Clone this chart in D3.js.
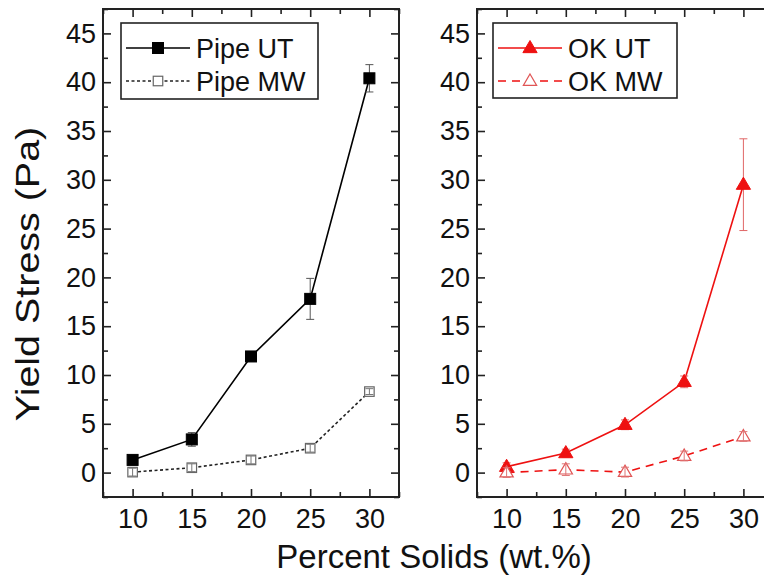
<!DOCTYPE html>
<html>
<head>
<meta charset="utf-8">
<script src="https://cdn.jsdelivr.net/npm/d3@7"></script>
<style>
  html, body { margin: 0; padding: 0; background: #fff; }
  svg text { font-family: "Liberation Sans", Arial, sans-serif; fill: #111; }
</style>
</head>
<body>
<svg id="chart" width="764" height="584"></svg>
<script>
// Yield stress versus solids loading, two slurry sets measured two ways
const solids = [10, 15, 20, 25, 30];
const xTicks = [10, 15, 20, 25, 30];
const yTicks = [0, 5, 10, 15, 20, 25, 30, 35, 40, 45];

const pipeUT = [1.3, 3.4, 11.9, 17.8, 40.4];
const pipeUTErr = [0.3, 0.7, 0.3, 2.1, 1.4];
const pipeMW = [0.05, 0.5, 1.3, 2.5, 8.3];
const pipeMWErr = [0.4, 0.4, 0.4, 0.4, 0.3];

const okUT = [0.6, 2.0, 4.9, 9.3, 29.5];
const okUTErr = [0.4, 0.4, 0.5, 0.6, 4.7];
const okMW = [0.0, 0.3, 0.05, 1.7, 3.7];
const okMWErr = [0.5, 0.6, 0.5, 0.5, 0.5];

const RED = "#ee1111";
const svg = d3.select("#chart");

const plotTop = 9, plotBottom = 497;
const y = d3.scaleLinear().domain([-2.5, 47.5]).range([plotBottom, plotTop]);

const panels = [
  {
    left: 103, right: 399,
    series: [
      { name: "Pipe UT", vals: pipeUT, err: pipeUTErr, color: "#000", errColor: "#555",
        dash: null, marker: "square", filled: true, mstroke: "#000" },
      { name: "Pipe MW", vals: pipeMW, err: pipeMWErr, color: "#222", errColor: "#777",
        dash: "3,2.5", marker: "square", filled: false, mstroke: "#666" }
    ],
    legend: { x: 121, y: 23, w: 197, h: 76, lineX0: 126, lineX1: 190, textX: 196 }
  },
  {
    left: 477, right: 773,
    series: [
      { name: "OK UT", vals: okUT, err: okUTErr, color: RED, errColor: "#e06666",
        dash: null, marker: "triangle", filled: true, mstroke: RED },
      { name: "OK MW", vals: okMW, err: okMWErr, color: RED, errColor: "#e07777",
        dash: "8,6", marker: "triangle", filled: false, mstroke: "#e05555" }
    ],
    legend: { x: 493, y: 23, w: 184, h: 75, lineX0: 498, lineX1: 562, textX: 568 }
  }
];

function drawMarker(g, type, cx, cy, filled, stroke, fillColor) {
  if (type === "square") {
    const s = filled ? 11 : 9.5;
    g.append("rect")
      .attr("x", cx - s / 2).attr("y", cy - s / 2)
      .attr("width", s).attr("height", s)
      .attr("fill", filled ? fillColor : "#fff")
      .attr("stroke", stroke).attr("stroke-width", filled ? 1 : 1.2);
  } else {
    const r = filled ? 7.5 : 7;
    const pts = [[cx, cy - r], [cx + r * 0.95, cy + r * 0.62], [cx - r * 0.95, cy + r * 0.62]];
    g.append("path")
      .attr("d", "M" + pts.map(p => p.join(",")).join("L") + "Z")
      .attr("fill", filled ? fillColor : "#fff")
      .attr("stroke", stroke).attr("stroke-width", filled ? 1 : 1.2);
  }
}

function drawErr(g, cx, v, e, color) {
  const y0 = y(v + e), y1 = y(v - e);
  g.append("line").attr("x1", cx).attr("x2", cx).attr("y1", y0).attr("y2", y1)
    .attr("stroke", color).attr("stroke-width", 1);
  [y0, y1].forEach(yy => g.append("line")
    .attr("x1", cx - 4).attr("x2", cx + 4).attr("y1", yy).attr("y2", yy)
    .attr("stroke", color).attr("stroke-width", 1));
}

panels.forEach(p => {
  const x = d3.scaleLinear().domain([7.5, 32.5]).range([p.left, p.right]);
  const g = svg.append("g");

  const minorX = d3.range(7.5, 33, 5);
  const minorY = d3.range(-2.5, 48, 5);

  // left axis with labels
  const ax = g.append("g").attr("transform", `translate(${p.left},0)`)
    .call(d3.axisLeft(y).tickValues(yTicks).tickSizeInner(-8).tickSizeOuter(0).tickPadding(7));
  ax.append("g").call(d3.axisLeft(y).tickValues(minorY).tickSizeInner(-5).tickSizeOuter(0).tickFormat(""));
  // right axis, ticks only
  const ar = g.append("g").attr("transform", `translate(${p.right},0)`);
  ar.call(d3.axisRight(y).tickValues(yTicks).tickSizeInner(-8).tickSizeOuter(0).tickFormat(""));
  ar.append("g").call(d3.axisRight(y).tickValues(minorY).tickSizeInner(-5).tickSizeOuter(0).tickFormat(""));
  // bottom axis with labels
  const ab = g.append("g").attr("transform", `translate(0,${plotBottom})`)
    .call(d3.axisBottom(x).tickValues(xTicks).tickSizeInner(-8).tickSizeOuter(0).tickPadding(12));
  ab.append("g").call(d3.axisBottom(x).tickValues(minorX).tickSizeInner(-5).tickSizeOuter(0).tickFormat(""));
  // top axis, ticks only
  const at = g.append("g").attr("transform", `translate(0,${plotTop})`);
  at.call(d3.axisTop(x).tickValues(xTicks).tickSizeInner(-8).tickSizeOuter(0).tickFormat(""));
  at.append("g").call(d3.axisTop(x).tickValues(minorX).tickSizeInner(-5).tickSizeOuter(0).tickFormat(""));

  g.selectAll(".domain").remove();
  g.selectAll(".tick line").attr("stroke", "#222").attr("stroke-width", 1.6);
  g.selectAll(".tick text").attr("font-size", 27).attr("fill", "#111")
    .attr("font-family", "'Liberation Sans', Arial, sans-serif");

  // frame
  g.append("rect").attr("x", p.left).attr("y", plotTop)
    .attr("width", p.right - p.left).attr("height", plotBottom - plotTop)
    .attr("fill", "none").attr("stroke", "#222").attr("stroke-width", 2);

  // series
  const line = d3.line().x((d, i) => x(solids[i])).y(d => y(d));
  p.series.forEach(s => {
    g.append("path").datum(s.vals).attr("d", line)
      .attr("fill", "none").attr("stroke", s.color).attr("stroke-width", 1.6)
      .attr("stroke-dasharray", s.dash);
  });
  p.series.forEach(s => {
    const sg = g.append("g");
    s.vals.forEach((v, i) => {
      const cx = x(solids[i]);
      if (s.filled) {
        drawErr(sg, cx, v, s.err[i], s.errColor);
        drawMarker(sg, s.marker, cx, y(v), true, s.mstroke, s.color);
      } else {
        drawMarker(sg, s.marker, cx, y(v), false, s.mstroke, s.color);
        drawErr(sg, cx, v, s.err[i], s.errColor);
      }
    });
  });

  // legend
  const L = p.legend;
  const lg = g.append("g");
  lg.append("rect").attr("x", L.x).attr("y", L.y).attr("width", L.w).attr("height", L.h)
    .attr("fill", "#fff").attr("stroke", "#222").attr("stroke-width", 1.6);
  p.series.forEach((s, k) => {
    const ry = L.y + 25 + k * 33;
    lg.append("line").attr("x1", L.lineX0).attr("x2", L.lineX1).attr("y1", ry).attr("y2", ry)
      .attr("stroke", s.color).attr("stroke-width", 1.6).attr("stroke-dasharray", s.dash);
    drawMarker(lg, s.marker, (L.lineX0 + L.lineX1) / 2, ry, s.filled, s.mstroke, s.color);
    lg.append("text").attr("x", L.textX).attr("y", ry).attr("dy", "0.36em")
      .attr("font-size", 27).text(s.name);
  });
});

// axis titles
svg.append("text").attr("transform", "translate(39,274) rotate(-90) scale(1.16,1)")
  .attr("text-anchor", "middle").attr("font-size", 34).text("Yield Stress (Pa)");
svg.append("text").attr("x", 434).attr("y", 568)
  .attr("text-anchor", "middle").attr("font-size", 33).text("Percent Solids (wt.%)");
</script>
</body>
</html>
